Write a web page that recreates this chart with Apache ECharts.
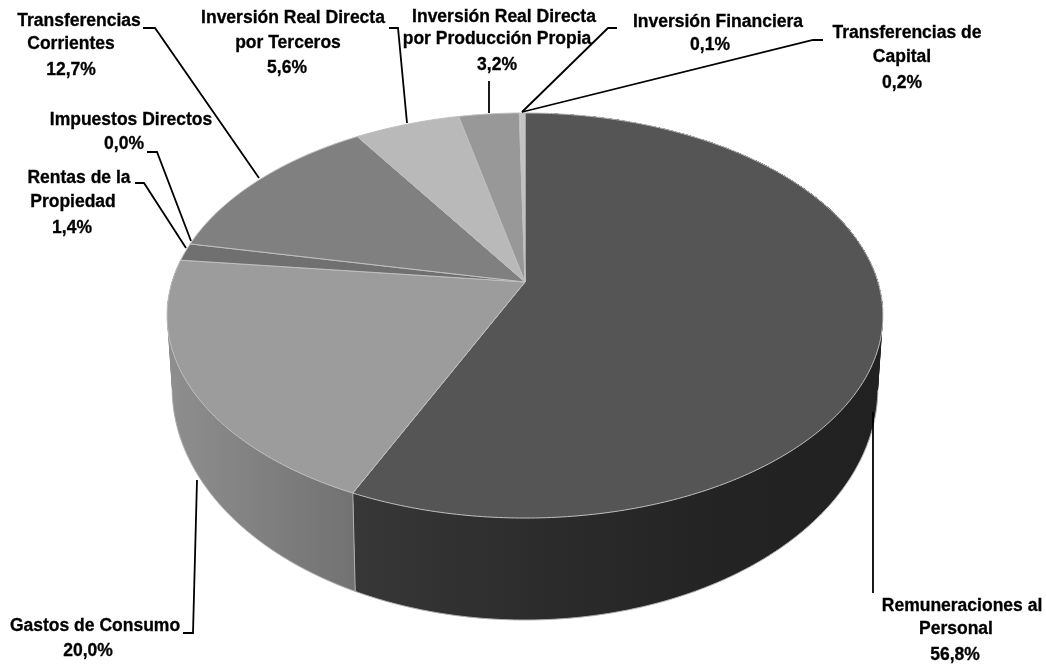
<!DOCTYPE html>
<html><head><meta charset="utf-8">
<script src="https://cdn.jsdelivr.net/npm/echarts@6/dist/echarts.min.js"></script>
<style>html,body{margin:0;padding:0;background:#fff}#c{width:1046px;height:664px}</style>
</head><body><div id="c"></div>
<script>
const categories = ['Remuneraciones al Personal','Gastos de Consumo','Rentas de la Propiedad','Impuestos Directos','Transferencias Corrientes','Inversión Real Directa por Terceros','Inversión Real Directa por Producción Propia','Inversión Financiera','Transferencias de Capital'];
const shares = [56.8,20.0,1.4,0.0,12.7,5.6,3.2,0.1,0.2];
const labelLines = [['Remuneraciones al','Personal'],['Gastos de Consumo'],['Rentas de la','Propiedad'],['Impuestos Directos'],['Transferencias','Corrientes'],['Inversión Real Directa','por Terceros'],['Inversión Real Directa','por Producción Propia'],['Inversión Financiera'],['Transferencias de','Capital']];

// layout and style, separate from the data
const topColors = ['#555555','#9c9c9c','#707070','#8a8a8a','#808080','#b9b9b9','#989898','#cfcfcf','#c4c4c4'];
const labelAt = [
 [[962,606],[956,629],[955,655]],
 [[95,626],[88,651]],
 [[79,178],[73,202],[72,228]],
 [[131,120],[124,144]],
 [[79,21],[71,44],[71,70]],
 [[293,18],[288,43],[287,68]],
 [[504,17],[497,39],[497,65]],
 [[718,22],[710,45]],
 [[907,33],[902,57],[902,83]]
];
const leaders = [
 [[873,412],[873,593]],
 [[197,480],[193,633],[183,633]],
 [[186,248],[144,183],[135,183]],
 [[191,241],[157,152],[147,152]],
 [[259,178],[155,28],[143,28]],
 [[407,123],[398,28],[389,28]],
 [[489,113],[489,81]],
 [[522,112],[608,28],[617,28]],
 [[522,112],[813,40],[823,40]]
];
const TOP = {cx:525, cy:282, bx:353, by:197};
const LOW = {cx:525, cy:349.7, bx:348, by:225.6};
const K = 0.1654, LAYERS = 14;

function project(frac, level){
  const t = frac*2*Math.PI, x = Math.sin(t), y = -Math.cos(t), w = 1-K*y;
  const m = (f)=>TOP[f]+(LOW[f]-TOP[f])*level;
  return [m('cx') + m('bx')*x/w, m('cy') + m('by')*y/w];
}
function arc(a, b, level){
  const n = Math.max(2, Math.ceil((b-a)*500)), r = [];
  for(let i=0;i<=n;i++) r.push(project(a+(b-a)*i/n, level));
  return r;
}
function frontArc(a, b, level){
  const n = Math.max(2, Math.ceil((b-a)*500)), r = [];
  for(let i=0;i<=n;i++){
    const f=a+(b-a)*i/n;
    if(-Math.cos(f*2*Math.PI)>K) r.push(project(f, level));
  }
  return r;
}
const total = shares.reduce((s,v)=>s+v,0);
let run = 0;
const rows = shares.map((v,i)=>{const r=[i,run/total,(run+v)/total,v]; run+=v; return r;});

const wallFill = [
  new echarts.graphic.LinearGradient(355,0,880,0,[{offset:0,color:'#373737'},{offset:0.35,color:'#2c2c2c'},{offset:0.65,color:'#242424'},{offset:1,color:'#212121'}],true),
  new echarts.graphic.LinearGradient(170,0,355,0,[{offset:0,color:'#8e8e8e'},{offset:0.5,color:'#808080'},{offset:1,color:'#727272'}],true)
];
function renderTop(p, api){
  const i=api.value(0), a=api.value(1), b=api.value(2);
  if(b-a<=0) return {type:'group',children:[]};
  return {type:'polygon', shape:{points:[[TOP.cx,TOP.cy]].concat(arc(a,b,0))},
    style:{fill:topColors[i], stroke:'#c0c0c0', lineWidth:1}};
}
function renderWall(p, api){
  const i=api.value(0), a=api.value(1), b=api.value(2);
  if(i>1) return {type:'group',children:[]};
  const children=[];
  const top=arc(a,b,0);
  for(let j=1;j<=LAYERS;j++){
    children.push({type:'polygon',shape:{points:top.concat(arc(a,b,j/LAYERS).reverse())},style:{fill:wallFill[i]}});
  }
  children.push({type:'polyline',shape:{points:frontArc(a,b,1)},style:{fill:null,stroke:'#b0b0b0',lineWidth:1}});
  if(i===1) children.push({type:'polyline',shape:{points:[project(a,0),project(a,1)]},style:{fill:null,stroke:'#b0b0b0',lineWidth:1}});
  return {type:'group',children:children};
}
function renderLabel(p, api){
  const i=api.value(0), v=api.value(3);
  const txt = labelLines[i].concat([v.toFixed(1).replace('.',',')+'%']);
  const children=[{type:'polyline',shape:{points:leaders[i]},style:{fill:null,stroke:'#000',lineWidth:1.8}}];
  txt.forEach((t,n)=>children.push({type:'text',x:labelAt[i][n][0],y:labelAt[i][n][1],
     style:{text:t,fill:'#000',stroke:'#000',lineWidth:0.3,align:'center',verticalAlign:'middle',
       font:'bold 17.5px "Liberation Sans", Arial, sans-serif'}}));
  return {type:'group',children:children};
}
const dims=['index','start','end','share'];
const chart = echarts.init(document.getElementById('c'),null,{renderer:'canvas'});
chart.setOption({
  backgroundColor:'#fff', animation:false, tooltip:{show:false},
  series:[
    {type:'custom',name:'wall',coordinateSystem:'none',renderItem:renderWall,data:rows,dimensions:dims,silent:true,z:1},
    {type:'custom',name:'top',coordinateSystem:'none',renderItem:renderTop,data:rows,dimensions:dims,silent:true,z:2},
    {type:'custom',name:'labels',coordinateSystem:'none',renderItem:renderLabel,data:rows,dimensions:dims,silent:true,z:3}
  ]
});
</script></body></html>
